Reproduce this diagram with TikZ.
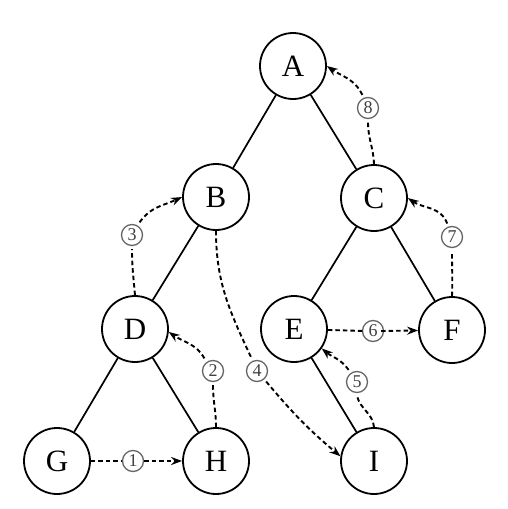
\documentclass[tikz,border=0pt]{standalone}
\usepackage{fontspec}
\setmainfont{Liberation Serif}
\usetikzlibrary{arrows.meta}
\tikzset{
  vtx/.style={circle,draw,line width=1.8pt,minimum size=66pt,inner sep=0pt,font=\fontsize{31}{33}\selectfont},
  edge/.style={line width=1.7pt},
  thread/.style={line width=1.9pt,dash pattern=on 4.5pt off 3pt},
  tip/.style={-{Stealth[length=11pt,width=8pt]}},
  lab/.style={circle,draw=black!60,line width=1.3pt,minimum size=21pt,inner sep=0pt,fill=white,text=black!75,font=\fontsize{18}{18}\selectfont}
}
\begin{document}
\begin{tikzpicture}[x=1pt,y=-1pt]
\useasboundingbox (0,0) rectangle (508,509);
\node[vtx] (A) at (293,66) {A};
\node[vtx] (B) at (216,197) {B};
\node[vtx] (C) at (374,198) {C};
\node[vtx] (D) at (135,329) {D};
\node[vtx] (E) at (294,329) {E};
\node[vtx] (F) at (452,330) {F};
\node[vtx] (G) at (57,461) {G};
\node[vtx] (H) at (216,461) {H};
\node[vtx] (I) at (374,461) {I};
\draw[edge] (A) -- (B);
\draw[edge] (A) -- (C);
\draw[edge] (B) -- (D);
\draw[edge] (C) -- (E);
\draw[edge] (C) -- (F);
\draw[edge] (D) -- (G);
\draw[edge] (D) -- (H);
\draw[edge] (E) -- (I);
% labels
\node[lab] (n1) at (133,461) {1};
\node[lab] (n2) at (213,371) {2};
\node[lab] (n3) at (132,235) {3};
\node[lab] (n4) at (257,371) {4};
\node[lab] (n5) at (357,382) {5};
\node[lab] (n6) at (373,331) {6};
\node[lab] (n7) at (452,237) {7};
\node[lab] (n8) at (368,108) {8};
% threads
\draw[thread] (G) -- (n1);
\draw[thread,tip] (n1) -- (H);
\draw[thread] (H.north) to[out=90,in=-90] ([yshift=-3pt]n2.south);
\draw[thread,tip] ([shift={(-3pt,3pt)}]n2.120) to[out=120,in=-35] (D.-5);
\draw[thread] (D.north) to[out=95,in=-90] ([yshift=-3pt]n3.south);
\draw[thread,tip] ([shift={(2pt,3pt)}]n3.60) to[out=55,in=-155] (B.west);
\draw[thread] (B.south) to[out=-90,in=115] ([shift={(-2pt,3pt)}]n4.110);
\draw[thread,tip] ([shift={(2pt,-2pt)}]n4.-50) to[out=-50,in=140] (I.172);
\draw[thread] (I.north) to[out=95,in=-75] ([yshift=-3pt]n5.south);
\draw[thread,tip] ([shift={(-2pt,3pt)}]n5.125) to[out=125,in=-40] (E.-35);
\draw[thread] (E) -- ([xshift=3pt]n6.west);
\draw[thread,tip] ([xshift=-3pt]n6.east) -- (F);
\draw[thread] (F.north) to[out=88,in=-90] ([yshift=-3pt]n7.south);
\draw[thread,tip] ([shift={(-1pt,3pt)}]n7.110) to[out=110,in=-35] (C.east);
\draw[thread] (C.north) to[out=92,in=-90] ([yshift=-3pt]n8.south);
\draw[thread,tip] ([shift={(-1pt,3pt)}]n8.115) to[out=115,in=-35] (A.east);
\end{tikzpicture}
\end{document}
